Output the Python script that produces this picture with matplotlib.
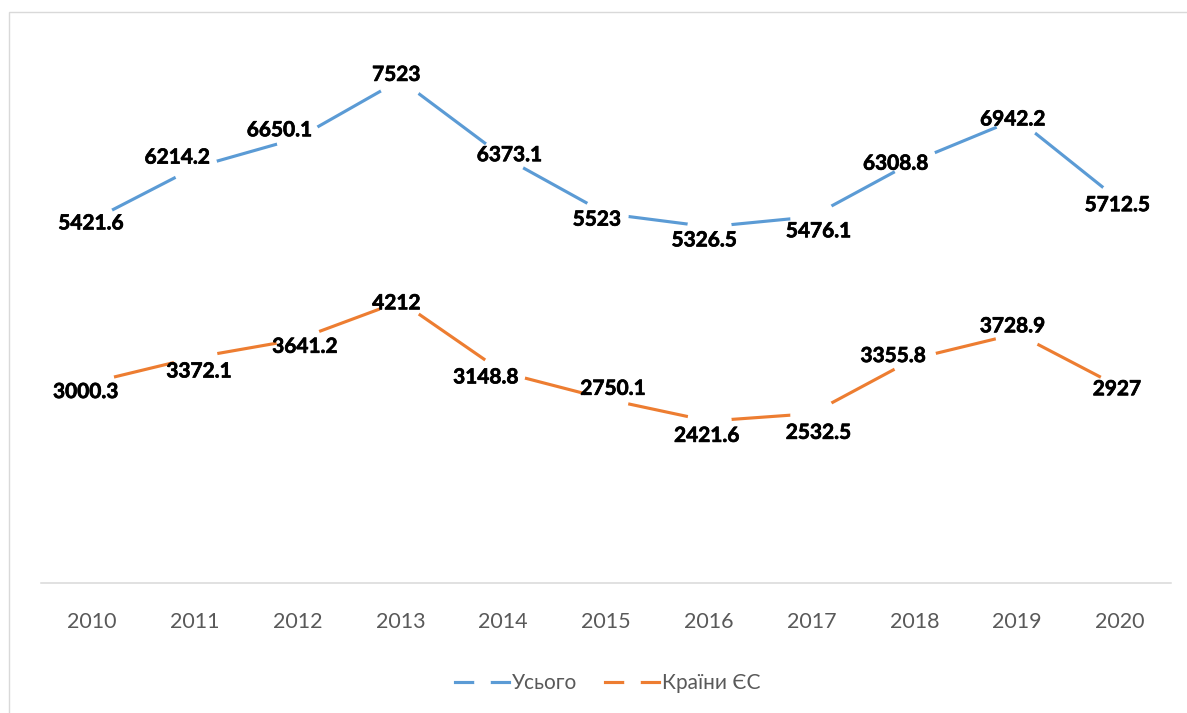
import matplotlib
matplotlib.use('Agg')
import matplotlib.pyplot as plt
import matplotlib.patheffects as pe
from matplotlib.lines import Line2D
from matplotlib.patches import Rectangle

# ---- data ----
years = ['2010', '2011', '2012', '2013', '2014', '2015', '2016', '2017', '2018', '2019', '2020']
total = [5421.6, 6214.2, 6650.1, 7523, 6373.1, 5523, 5326.5, 5476.1, 6308.8, 6942.2, 5712.5]
eu = [3000.3, 3372.1, 3641.2, 4212, 3148.8, 2750.1, 2421.6, 2532.5, 3355.8, 3728.9, 2927]
series_names = ['Усього', 'Країни ЄС']

# ---- layout (data-label offsets in pixels) ----
total_offsets = [(-1, -1), (-17.5, 11.8), (-18, 10), (-4, 7), (6.5, 3.6), (-9, -4),
                 (-4.4, -11.6), (7, -12.5), (-18.5, -0.6), (-4.4, 1.3), (-2.6, -2.2)]
eu_offsets = [(-6.3, -7.7), (4.4, -12), (7.4, -5.3), (-4, 0), (-17.2, -3), (7, 12.3),
              (-2, -12.8), (7, -17.2), (-21, 4.5), (-4.5, 9.3), (-3, 0)]

BLUE = '#5B9BD5'
ORANGE = '#ED7D31'
GRID = '#D9D9D9'
TXT = '#595959'
FONT = ['Lato', 'Open Sans', 'DejaVu Sans']

W, H = 1187, 713
fig = plt.figure(figsize=(W / 100, H / 100), dpi=100)
fig.patch.set_facecolor('white')

# chart border (partially outside the image)
fig.patches.append(Rectangle((9 / W, -0.2), 1.5, 1.2 - 12 / H, transform=fig.transFigure,
                             fill=False, edgecolor=GRID, lw=1.0))

left, right, bottom, top = 40.6, 1171.4, 583, 48
ax = fig.add_axes([left / W, 1 - bottom / H, (right - left) / W, (bottom - top) / H])
x = list(range(len(years)))
ax.set_xlim(-0.5, len(years) - 0.5)
ax.set_ylim(0, 8000)

for vals, color in [(total, BLUE), (eu, ORANGE)]:
    ax.plot(x, vals, color=color, lw=2.25, marker='o', ms=32, mfc='white', mec='none',
            solid_capstyle='butt', zorder=2)

for vals, offs in [(total, total_offsets), (eu, eu_offsets)]:
    for i, (v, (dx, dy)) in enumerate(zip(vals, offs)):
        ax.annotate(f'{v:g}', (i, v), xytext=(dx, dy), textcoords='offset pixels',
                    ha='center', va='center_baseline', fontsize=15, fontweight='bold',
                    color='black', family=FONT, zorder=5,
                    path_effects=[pe.withStroke(linewidth=0.5, foreground='black')])

for s in ['left', 'right', 'top']:
    ax.spines[s].set_visible(False)
ax.spines['bottom'].set_color(GRID)
ax.spines['bottom'].set_linewidth(1.1)
ax.set_yticks([])
ax.set_xticks(x)
ax.set_xticklabels(years)
ax.tick_params(axis='x', length=0, pad=21, labelsize=15.5, labelcolor=TXT)
for t in ax.get_xticklabels():
    t.set_family(FONT)

handles = [Line2D([0], [0], color=c, lw=2.25, marker='o', ms=12, mfc='white', mec='none')
           for c in (BLUE, ORANGE)]
leg = fig.legend(handles, series_names, loc='center', bbox_to_anchor=(0.512, 1 - 683 / H),
                 ncol=2, frameon=False, handlelength=2.6, handletextpad=0.15,
                 columnspacing=1.3, prop={'family': FONT, 'size': 15})
for t in leg.get_texts():
    t.set_color(TXT)

fig.savefig('out.png', dpi=100, facecolor='white')
